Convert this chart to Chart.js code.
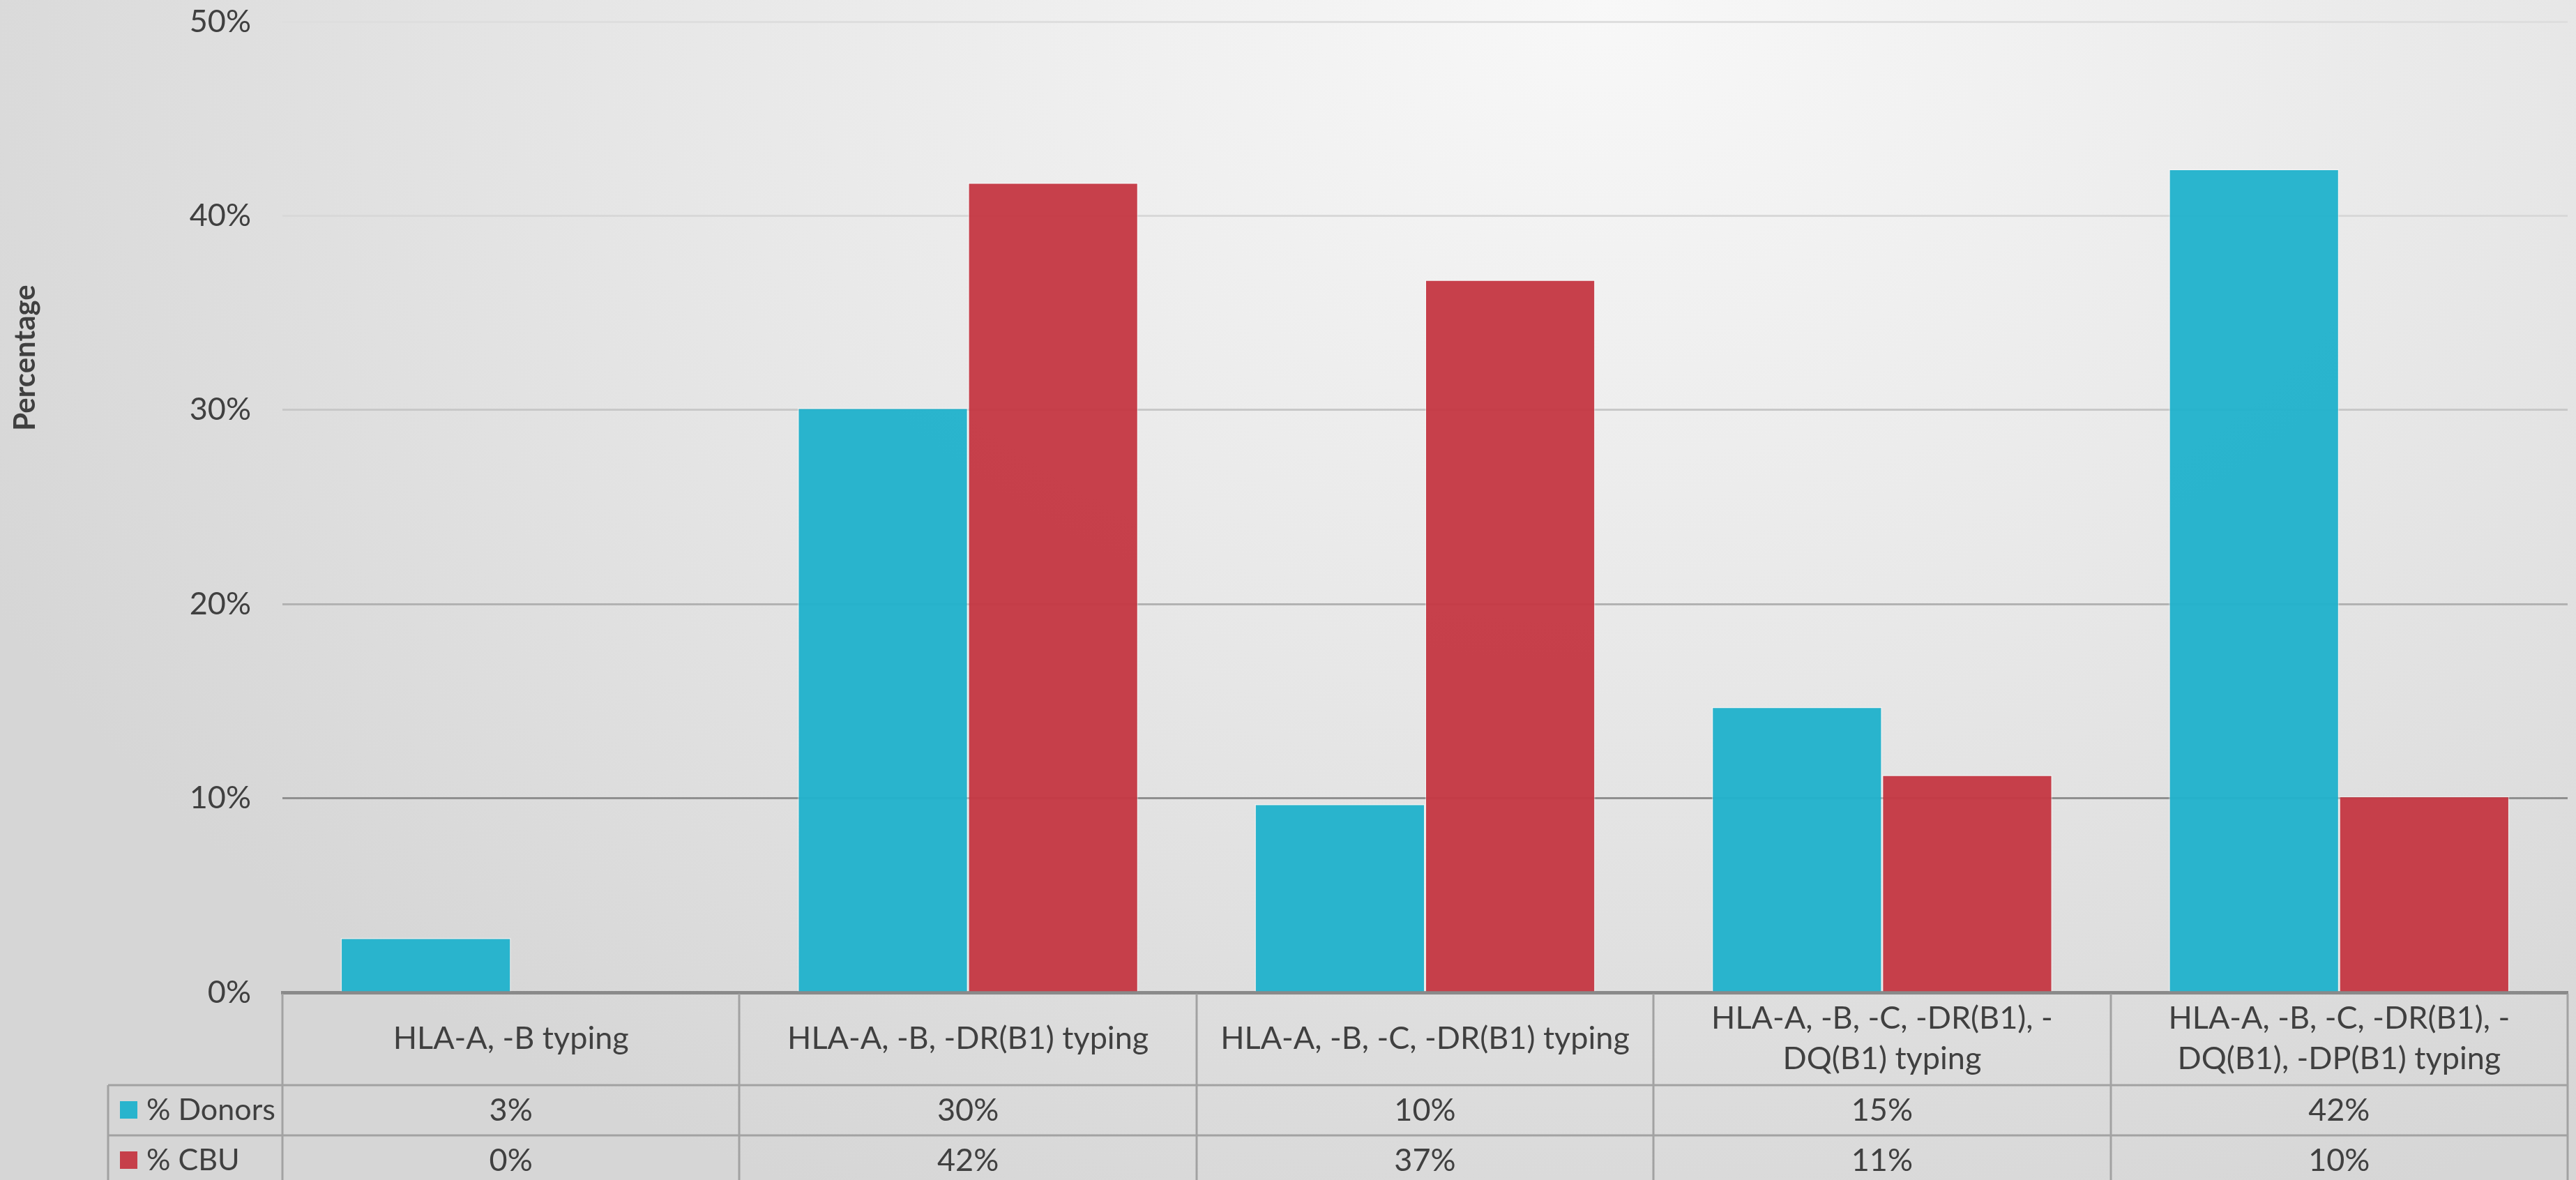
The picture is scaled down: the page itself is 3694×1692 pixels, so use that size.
<!DOCTYPE html>
<html lang="en">
<head>
<meta charset="UTF-8">
<title>HLA typing resolution: Donors vs CBU</title>
<script src="https://cdn.jsdelivr.net/npm/chart.js"></script>
<style>
  html, body { margin: 0; padding: 0; overflow: hidden; }
  body {
    width: 3694px; height: 1692px;
    background: radial-gradient(ellipse 2600px 1900px at 2300px 0px, #f8f8f8 0%, #e8e8e8 50%, #d6d6d6 100%);
  }
  #wrap { position: relative; width: 3694px; height: 1692px; }
</style>
</head>
<body>
<div id="wrap"><canvas id="myChart"></canvas></div>
<script>
// categories (multi-line, as wrapped in the data table)
const categories = [
  ['HLA-A, -B typing'],
  ['HLA-A, -B, -DR(B1) typing'],
  ['HLA-A, -B, -C, -DR(B1) typing'],
  ['HLA-A, -B, -C, -DR(B1), -', 'DQ(B1) typing'],
  ['HLA-A, -B, -C, -DR(B1), -', 'DQ(B1), -DP(B1) typing']
];
const seriesNames = ['% Donors', '% CBU'];
const donors = [2.8, 30.1, 9.7, 14.7, 42.4];
const cbu = [0, 41.7, 36.7, 11.2, 10.1];
const yTicks = [0, 10, 20, 30, 40, 50];
const yTitle = 'Percentage';

const FONT = 'Lato, "Open Sans", sans-serif';
const TEXT = '#404040';
const TEAL = 'rgba(33, 178, 204, 0.96)';
const RED = 'rgba(197, 56, 68, 0.96)';
const gridColors = ['#8a8a8a', '#8f8f8f', '#b2b2b2', '#c8c8c8', '#d8d8d8', '#dedede'];

// draws the y-axis title and the Excel-style data table under the plot
const tablePlugin = {
  id: 'dataTable',
  afterDraw(chart) {
    const ctx = chart.ctx;
    const area = chart.chartArea;
    const x = chart.scales.x;
    const n = categories.length;
    const catW = (area.right - area.left) / n;
    const catBottom = area.bottom + 133;
    const rowH = 72;
    const legLeft = 155;
    const rows = [donors, cbu];
    const colors = [TEAL, RED];

    ctx.save();
    ctx.strokeStyle = '#a2a2a2';
    ctx.lineWidth = 3;
    ctx.beginPath();
    for (let k = 0; k <= n; k++) {
      const px = Math.round(area.left + k * catW);
      ctx.moveTo(px, area.bottom + 2);
      ctx.lineTo(px, catBottom + rowH * 2);
    }
    ctx.moveTo(legLeft, catBottom);
    ctx.lineTo(legLeft, catBottom + rowH * 2);
    for (let r = 0; r <= 2; r++) {
      ctx.moveTo(legLeft, catBottom + r * rowH);
      ctx.lineTo(area.right, catBottom + r * rowH);
    }
    ctx.stroke();

    ctx.fillStyle = TEXT;
    ctx.font = '45px ' + FONT;
    ctx.textAlign = 'center';
    ctx.textBaseline = 'middle';
    categories.forEach((lines, i) => {
      const cx = x.getPixelForValue(i);
      const mid = (area.bottom + catBottom) / 2;
      const lh = 58;
      lines.forEach((t, j) => {
        ctx.fillText(t, cx, mid + (j - (lines.length - 1) / 2) * lh);
      });
    });

    rows.forEach((vals, r) => {
      const cy = catBottom + r * rowH + rowH / 2;
      ctx.font = '45px ' + FONT;
      vals.forEach((v, i) => {
        ctx.fillStyle = TEXT;
        ctx.textAlign = 'center';
        ctx.fillText(Math.round(v) + '%', x.getPixelForValue(i), cy);
      });
      ctx.fillStyle = colors[r];
      ctx.fillRect(legLeft + 17, cy - 13, 25, 25);
      ctx.fillStyle = TEXT;
      ctx.textAlign = 'left';
      ctx.font = '43px ' + FONT;
      ctx.fillText(seriesNames[r], legLeft + 55, cy);
    });

    // rotated y-axis title
    ctx.translate(36, 513);
    ctx.rotate(-Math.PI / 2);
    ctx.font = 'bold 42px ' + FONT;
    ctx.textAlign = 'center';
    ctx.fillStyle = TEXT;
    ctx.fillText(yTitle, 0, 0);
    ctx.restore();
  }
};

const ctx = document.getElementById('myChart').getContext('2d');
new Chart(ctx, {
  type: 'bar',
  data: {
    labels: categories,
    datasets: [
      { label: seriesNames[0], data: donors, backgroundColor: TEAL,
        borderColor: 'rgba(255,255,255,0.45)', borderWidth: 1.5, borderSkipped: 'start' },
      { label: seriesNames[1], data: cbu, backgroundColor: RED,
        borderColor: 'rgba(255,255,255,0.45)', borderWidth: 1.5, borderSkipped: 'start' }
    ]
  },
  options: {
    responsive: true,
    maintainAspectRatio: false,
    animation: false,
    layout: { padding: { top: 31, right: 12, left: 0, bottom: 0 } },
    datasets: { bar: { categoryPercentage: 0.745, barPercentage: 1.0 } },
    plugins: { legend: { display: false }, tooltip: { enabled: false } },
    scales: {
      x: {
        ticks: { display: false },
        grid: { display: false },
        border: { color: '#8a8a8a', width: 5 },
        afterFit(scale) { scale.height = 269; }
      },
      y: {
        min: yTicks[0],
        max: yTicks[yTicks.length - 1],
        afterBuildTicks(scale) { scale.ticks = yTicks.map(v => ({ value: v })); },
        ticks: {
          padding: 45,
          color: TEXT,
          font: { family: FONT, size: 45 },
          callback: v => v + '%'
        },
        grid: {
          drawTicks: false,
          lineWidth: 3,
          color: c => gridColors[Math.round(c.tick.value / 10)]
        },
        border: { display: false },
        afterFit(scale) {
          scale.width = 405;
          scale.paddingTop = 0;
          scale.paddingBottom = 0;
        }
      }
    }
  },
  plugins: [tablePlugin]
});
</script>
</body>
</html>
